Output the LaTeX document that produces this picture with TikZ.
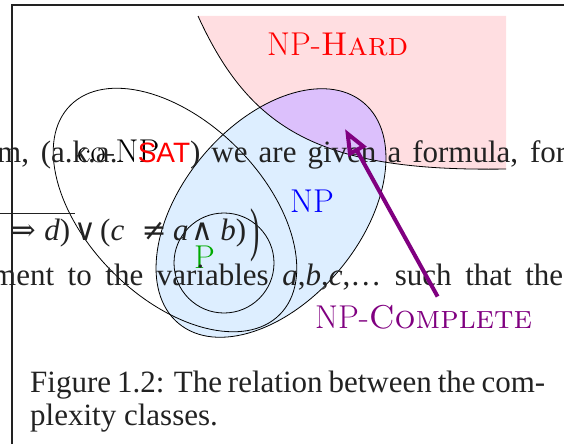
\documentclass[tikz,border=0pt]{standalone}
\usepackage{fontspec}
\usepackage{tikz}
\usetikzlibrary{arrows.meta}
\newfontfamily\pagefont{Liberation Serif}
\newfontfamily\satfont{Liberation Sans}
\newfontfamily\symfont{DejaVu Serif}
\definecolor{HardPink}{HTML}{FFDEE1}
\definecolor{NPBlue}{HTML}{DDEEFF}
\definecolor{NPCPurple}{HTML}{DCC0FC}
\definecolor{Purple}{HTML}{800080}
\definecolor{Ink}{HTML}{222222}
\definecolor{PGreen}{HTML}{00AA00}
\newcommand\sym[1]{{\symfont\fontsize{30}{34}\selectfont #1}}
\newcommand\slot[3]{\makebox[#2pt][#1]{#3}}
\tikzset{
  classlabel/.style={font=\fontsize{33}{40}\selectfont,anchor=base west,inner sep=0pt},
  pagetext/.style={font=\pagefont\fontsize{31}{36}\selectfont,text=Ink,anchor=base west,inner sep=0pt},
  classline/.style={draw=black,line width=0.8pt},
  pointer/.style={-{Triangle[open,length=26pt,width=20pt]},line width=4pt,draw=Purple}
}

\begin{document}
\begin{tikzpicture}[x=1pt,y=-1pt]
  \useasboundingbox (0,0) rectangle (564,444);
  \coordinate (npcentre) at (271,213);
  \coordinate (conpcentre) at (175,210);
  \coordinate (pcentre) at (224,263);

  % NP-hard region and the classes
  \fill[HardPink] (198,16) .. controls (250,130) and (320,172) .. (506,169) -- (506,16) -- cycle;
  \fill[NPBlue,rotate around={50:(npcentre)}] (npcentre) ellipse [x radius=144pt,y radius=89pt];
  \begin{scope}
    \clip[rotate around={50:(npcentre)}] (npcentre) ellipse [x radius=144pt,y radius=89pt];
    \fill[NPCPurple] (198,16) .. controls (250,130) and (320,172) .. (506,169) -- (506,16) -- cycle;
  \end{scope}
  \draw[classline] (198,16) .. controls (250,130) and (320,172) .. (506,169);
  \draw[classline,rotate around={50:(npcentre)}] (npcentre) ellipse [x radius=144pt,y radius=89pt];
  \draw[classline,rotate around={-45:(conpcentre)}] (conpcentre) ellipse [x radius=148pt,y radius=88pt];
  \draw[classline] (pcentre) circle [radius=50pt];

  \node[classlabel,text=red] (hard) at (267,56) {NP-\textsc{Hard}};
  \node[classlabel,text=blue] (np) at (290,212) {NP};
  \node[classlabel,text=PGreen] (p) at (194,268) {P};
  \node[classlabel] (conp) at (77,162) {co-NP};
  \node[classlabel,text=Purple] (npc) at (315,328) {NP-\textsc{Complete}};

  % the page behind
  \draw[Ink,line width=1.3pt] (12,444) -- (12,5) -- (564,5);
  \draw[Ink,line width=1pt] (0,213) -- (75,213);
  \node[pagetext] (line1) at (-3,162)
    {\makebox[569pt][s]{m, (a.k.a. \textcolor{red}{\satfont\fontsize{28}{34}\selectfont SAT}) we are given a formula, for}};
  \node[pagetext] (formula) at (10,240)
    {\slot{c}{26}{\sym{⇒}}\slot{r}{34}{\textit{d})}\slot{c}{30}{\sym{∨}}\slot{l}{35}{(\textit{c}}%
     \slot{c}{38}{\sym{≠}}\slot{l}{15}{\textit{a}}\slot{c}{28}{\sym{∧}}\slot{c}{34}{\textit{b})}%
     \raisebox{-9pt}{\scalebox{0.9}[1.9]{)}}};
  \node[pagetext] (line3) at (-8,285)
    {\makebox[571pt][s]{ment to the variables \textit{a},\textit{b},\textit{c},\ldots{} such that the}};
  \node[pagetext] (cap1) at (30,392)
    {\makebox[515pt][s]{Figure 1.2: The relation between the com-}};
  \node[pagetext] (cap2) at (30,425) {plexity classes.};

  \coordinate (core) at (345,129);
  \draw[pointer] ([xshift=14pt,yshift=8pt]npc.north) -- (core);
\end{tikzpicture}
\end{document}
